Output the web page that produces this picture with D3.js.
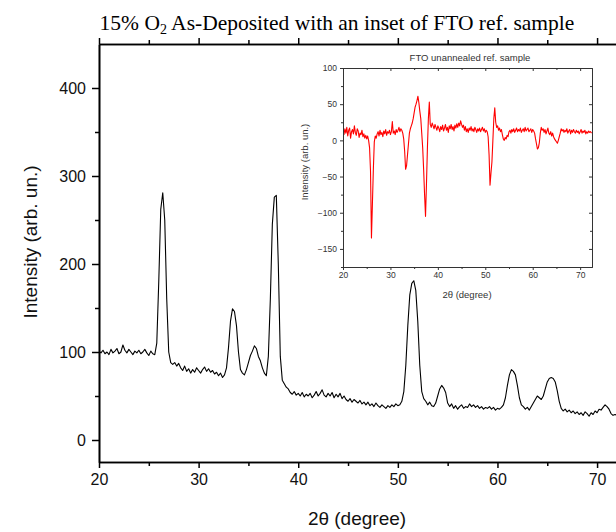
<!DOCTYPE html>
<html>
<head>
<meta charset="utf-8">
<script src="https://cdn.jsdelivr.net/npm/d3@7/dist/d3.min.js"></script>
<style>
  html, body { margin: 0; padding: 0; background: #fff; }
  svg { display: block; }
  .axis path, .axis line { stroke: #000; }
  .inset-axis path, .inset-axis line { stroke: #333; }
</style>
</head>
<body>
<svg id="chart" width="616" height="532"></svg>
<script>
// XRD scan of the 15% O2 as-deposited film, sampled every 0.2° in 2θ from 20°
const mainStart = 20.0;
const mainStep = 0.2;
const mainIntensity = [
  // 20.0 – 25.6
  101, 99, 102, 98, 100, 97, 103, 99, 101, 104, 98, 100, 108, 102, 99,
  103, 100, 97, 101, 99, 102, 98, 100, 103, 99, 96, 101, 98, 97,
  // 25.8 – 27.0
  110, 180, 262, 281, 250, 160, 100,
  // 27.2 – 32.8
  88, 86, 88, 84, 87, 82, 79, 84, 78, 81, 76, 80, 77, 82, 79,
  76, 80, 83, 78, 81, 77, 79, 75, 77, 73, 76, 71, 74, 82,
  // 33.0 – 38.8
  105, 135, 149, 146, 130, 100, 80, 76, 74, 80, 88, 96, 101, 107, 104,
  95, 90, 82, 76, 73, 95, 160, 245, 276, 278, 200, 95, 68, 64, 60,
  // 39.0 – 50.4
  58, 54, 52, 55, 51, 53, 50, 54, 49, 52, 50, 53, 48, 51, 55,
  50, 53, 57, 51, 49, 53, 50, 54, 48, 52, 49, 53, 47, 50, 46,
  44, 47, 43, 46, 44, 42, 45, 41, 43, 40, 43, 39, 41, 38, 42,
  39, 37, 40, 38, 36, 39, 37, 40, 38, 41, 39, 40, 44,
  // 50.6 – 52.8
  55, 85, 130, 165, 178, 181, 170, 135, 85, 55, 47, 44,
  // 53.0 – 60.4
  40, 43, 39, 38, 42, 50, 58, 62, 59, 54, 42, 38, 41, 36, 39,
  35, 38, 40, 36, 38, 37, 41, 38, 40, 37, 39, 36, 38, 35, 37,
  36, 38, 35, 37, 34, 36, 35, 37,
  // 60.6 – 66.4
  40, 48, 62, 74, 80, 78, 74, 62, 48, 40, 38, 35, 37, 34, 38,
  42, 46, 50, 48, 46, 50, 58, 66, 70, 71, 70, 66, 56, 44, 36,
  // 66.6 – 72.0
  33, 35, 32, 34, 31, 33, 30, 32, 29, 31, 28, 32, 30, 27, 31,
  29, 33, 31, 35, 34, 37, 40, 38, 35, 30, 28, 29, 28
];

// FTO unannealed reference, same 0.2° sampling from 20°
const refStart = 20.0;
const refStep = 0.2;
const refIntensity = [
  // 20.0 – 25.4
  12, 8, 16, 10, 18, 6, 14, 17, 3, 12, 15, 9, 20, 11, 7,
  16, 13, 4, 10, 8, 14, 5, 9, 3, 7, 2, 6, 0,
  // 25.6 – 32.6
  -10, -42, -135, -88, -40, -2, 6, 3, 9, 12, 6, 14, 8, 11, 5,
  13, 9, 15, 7, 12, 10, 14, 8, 12, 26, 10, 13, 8, 15, 11,
  14, 18, 12, 16, 14, 10,
  // 32.8 – 38.2
  2, -15, -40, -35, -20, -5, 10, 16, 20, 24, 30, 38, 46, 50, 55,
  61, 52, 40, 30, 10, -10, -40, -75, -105, -60, -10, 30, 53,
  // 38.4 – 50.4
  22, 18, 24, 20, 16, 22, 18, 14, 20, 17, 12, 19, 15, 21, 13,
  17, 22, 14, 18, 11, 20, 16, 22, 15, 19, 13, 21, 17, 23, 18,
  24, 20, 27, 22, 18, 21, 14, 19, 12, 16, 11, 17, 14, 19, 13,
  16, 12, 18, 15, 11, 16, 13, 17, 12, 15, 18, 13, 16, 11, 14, 12,
  // 50.6 – 54.8
  5, -20, -62, -45, -30, 0, 30, 45, 25, 18, 20, 14, 17, 12, 15,
  8, 2, 0, 4, 2, 7, 5,
  // 55.0 – 60.4
  12, 14, 10, 15, 12, 16, 11, 14, 17, 12, 15, 13, 17, 11, 14,
  16, 12, 18, 13, 15, 17, 12, 14, 16, 11, 15, 13, 10,
  // 60.6 – 65.8
  2, -5, -12, -10, -3, 10, 18, 14, 16, 11, 15, 9, 13, 17, 10,
  8, 12, 6, 10, 5, 2, 0, -2, -4, 0, 5, 10,
  // 66.0 – 72.4
  16, 13, 15, 11, 14, 12, 16, 10, 13, 15, 9, 14, 11, 15, 12,
  10, 14, 11, 13, 9, 12, 15, 10, 13, 11, 14, 9, 12, 10, 13,
  11, 12, 10
];

// Tick values
const mainXMajor = [20, 30, 40, 50, 60, 70];
const mainXMinor = [25, 35, 45, 55, 65];
const mainYMajor = [0, 100, 200, 300, 400];
const mainYMinor = [50, 150, 250, 350];
const refXMajor = [20, 30, 40, 50, 60, 70];
const refXMinor = [25, 35, 45, 55, 65];
const refYMajor = [-150, -100, -50, 0, 50, 100];
const refYMinor = [-175, -125, -75, -25, 25, 75];

const mainPoints = mainIntensity.map((v, i) => [mainStart + i * mainStep, v]);
const refPoints = refIntensity.map((v, i) => [refStart + i * refStep, v]);

const svg = d3.select("#chart");
const sansFont = "'Liberation Sans', Arial, sans-serif";

// ---- main plot ----
const M = { left: 99, right: 617, top: 44, bottom: 462 };
const x = d3.scaleLinear().domain([20, 72]).range([M.left, M.right]);
const y = d3.scaleLinear().domain([-25, 450]).range([M.bottom, M.top]);

svg.append("defs").append("clipPath").attr("id", "mainClip")
  .append("rect").attr("x", M.left).attr("y", M.top)
  .attr("width", M.right - M.left).attr("height", M.bottom - M.top);

svg.append("path")
  .datum(mainPoints)
  .attr("clip-path", "url(#mainClip)")
  .attr("fill", "none")
  .attr("stroke", "#000")
  .attr("stroke-width", 1.1)
  .attr("stroke-linejoin", "round")
  .attr("d", d3.line().x(d => x(d[0])).y(d => y(d[1])));

function styleAxis(g, fontSize) {
  g.attr("class", "axis");
  g.select(".domain").attr("stroke-width", 1.6);
  g.selectAll(".tick line").attr("stroke-width", 1.5);
  g.selectAll(".tick text")
    .attr("fill", "#111")
    .style("font-family", sansFont)
    .style("font-size", fontSize + "px");
}

// bottom
svg.append("g").attr("transform", `translate(0,${M.bottom})`)
  .call(d3.axisBottom(x).tickValues(mainXMajor).tickSize(6).tickSizeOuter(0).tickPadding(6))
  .call(g => styleAxis(g, 16));
svg.append("g").attr("transform", `translate(0,${M.bottom})`)
  .call(d3.axisBottom(x).tickValues(mainXMinor).tickSize(4).tickSizeOuter(0).tickFormat(""))
  .call(g => styleAxis(g, 16));
// top
svg.append("g").attr("transform", `translate(0,${M.top})`)
  .call(d3.axisTop(x).tickValues(mainXMajor).tickSize(6).tickSizeOuter(0).tickFormat(""))
  .call(g => styleAxis(g, 16));
svg.append("g").attr("transform", `translate(0,${M.top})`)
  .call(d3.axisTop(x).tickValues(mainXMinor).tickSize(4).tickSizeOuter(0).tickFormat(""))
  .call(g => styleAxis(g, 16));
// left
svg.append("g").attr("transform", `translate(${M.left},0)`)
  .call(d3.axisLeft(y).tickValues(mainYMajor).tickSize(7).tickSizeOuter(0).tickPadding(6))
  .call(g => styleAxis(g, 16));
svg.append("g").attr("transform", `translate(${M.left},0)`)
  .call(d3.axisLeft(y).tickValues(mainYMinor).tickSize(4).tickSizeOuter(0).tickFormat(""))
  .call(g => styleAxis(g, 16));
// right
svg.append("g").attr("transform", `translate(${M.right},0)`)
  .call(d3.axisRight(y).tickValues(mainYMajor).tickSize(6).tickSizeOuter(0).tickFormat(""))
  .call(g => styleAxis(g, 16));

// title
const title = svg.append("text")
  .attr("x", 337).attr("y", 30)
  .attr("text-anchor", "middle")
  .style("font-family", "'Liberation Serif', 'Times New Roman', serif")
  .style("font-size", "21.5px")
  .attr("fill", "#000");
title.append("tspan").text("15% O");
title.append("tspan").attr("dy", 4).style("font-size", "14px").text("2");
title.append("tspan").attr("dy", -4).text(" As-Deposited with an inset of FTO ref. sample");

// axis titles
svg.append("text")
  .attr("x", 357).attr("y", 525)
  .attr("text-anchor", "middle")
  .style("font-family", sansFont)
  .style("font-size", "19px")
  .attr("fill", "#111")
  .text("2θ (degree)");

svg.append("text")
  .attr("transform", `translate(37,242) rotate(-90)`)
  .attr("text-anchor", "middle")
  .style("font-family", sansFont)
  .style("font-size", "19px")
  .attr("fill", "#111")
  .text("Intensity (arb. un.)");

// ---- inset: FTO reference ----
const I = { left: 343, right: 592, top: 68, bottom: 267 };
const xi = d3.scaleLinear().domain([20, 72.5]).range([I.left, I.right]);
const yi = d3.scaleLinear().domain([-175, 100]).range([I.bottom, I.top]);

svg.append("rect")
  .attr("x", I.left).attr("y", I.top)
  .attr("width", I.right - I.left).attr("height", I.bottom - I.top)
  .attr("fill", "#fff");

svg.select("defs").append("clipPath").attr("id", "insetClip")
  .append("rect").attr("x", I.left).attr("y", I.top)
  .attr("width", I.right - I.left).attr("height", I.bottom - I.top);

svg.append("path")
  .datum(refPoints)
  .attr("clip-path", "url(#insetClip)")
  .attr("fill", "none")
  .attr("stroke", "#ff0000")
  .attr("stroke-width", 1.1)
  .attr("stroke-linejoin", "round")
  .attr("d", d3.line().x(d => xi(d[0])).y(d => yi(d[1])));

function styleInset(g) {
  g.attr("class", "inset-axis");
  g.select(".domain").attr("stroke-width", 1);
  g.selectAll(".tick line").attr("stroke-width", 1);
  g.selectAll(".tick text")
    .attr("fill", "#333")
    .style("font-family", sansFont)
    .style("font-size", "8.5px");
}

svg.append("g").attr("transform", `translate(0,${I.bottom})`)
  .call(d3.axisBottom(xi).tickValues(refXMajor).tickSize(3).tickSizeOuter(0).tickPadding(2))
  .call(styleInset);
svg.append("g").attr("transform", `translate(0,${I.bottom})`)
  .call(d3.axisBottom(xi).tickValues(refXMinor).tickSize(2).tickSizeOuter(0).tickFormat(""))
  .call(styleInset);
svg.append("g").attr("transform", `translate(0,${I.top})`)
  .call(d3.axisBottom(xi).tickValues(refXMajor).tickSize(3).tickSizeOuter(0).tickFormat(""))
  .call(styleInset);
svg.append("g").attr("transform", `translate(0,${I.top})`)
  .call(d3.axisBottom(xi).tickValues(refXMinor).tickSize(2).tickSizeOuter(0).tickFormat(""))
  .call(styleInset);
svg.append("g").attr("transform", `translate(${I.left},0)`)
  .call(d3.axisLeft(yi).tickValues(refYMajor).tickSize(3).tickSizeOuter(0).tickPadding(3))
  .call(styleInset);
svg.append("g").attr("transform", `translate(${I.left},0)`)
  .call(d3.axisLeft(yi).tickValues(refYMinor).tickSize(2).tickSizeOuter(0).tickFormat(""))
  .call(styleInset);
svg.append("g").attr("transform", `translate(${I.right},0)`)
  .call(d3.axisLeft(yi).tickValues(refYMajor).tickSize(3).tickSizeOuter(0).tickFormat(""))
  .call(styleInset);
svg.append("g").attr("transform", `translate(${I.right},0)`)
  .call(d3.axisLeft(yi).tickValues(refYMinor).tickSize(2).tickSizeOuter(0).tickFormat(""))
  .call(styleInset);

svg.append("text")
  .attr("x", 470).attr("y", 61)
  .attr("text-anchor", "middle")
  .style("font-family", sansFont)
  .style("font-size", "9.5px")
  .attr("fill", "#333")
  .text("FTO unannealed ref. sample");

svg.append("text")
  .attr("x", 467).attr("y", 298)
  .attr("text-anchor", "middle")
  .style("font-family", sansFont)
  .style("font-size", "9.5px")
  .attr("fill", "#333")
  .text("2θ (degree)");

svg.append("text")
  .attr("transform", `translate(308,162) rotate(-90)`)
  .attr("text-anchor", "middle")
  .style("font-family", sansFont)
  .style("font-size", "9.5px")
  .attr("fill", "#333")
  .text("Intensity (arb. un.)");
</script>
</body>
</html>
